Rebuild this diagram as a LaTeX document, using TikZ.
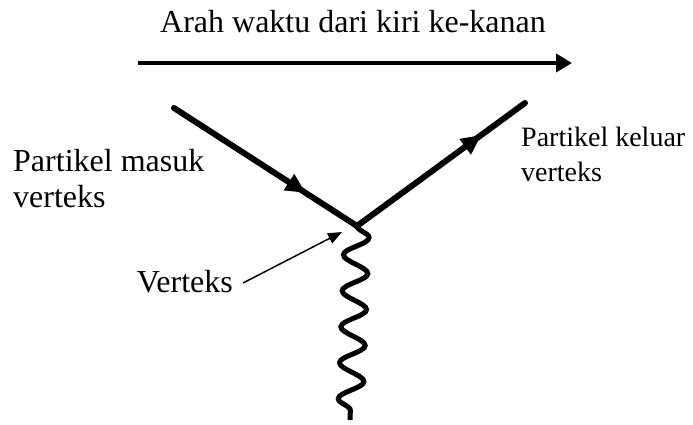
\documentclass[tikz,border=0pt]{standalone}
\usepackage{fontspec}
\setmainfont{Liberation Serif}
\usetikzlibrary{arrows.meta,decorations.markings,decorations.pathmorphing}
\tikzset{
  lbl/.style={font=\fontsize{32}{36}\selectfont, inner sep=0pt, align=left},
  lblsmall/.style={font=\fontsize{28}{35}\selectfont, inner sep=0pt, align=left},
  particle/.style={line width=6pt, line cap=round,
    postaction={decorate, decoration={markings,
      mark=at position #1 with {\arrow{Triangle[length=20pt,width=18pt]}}}}},
  photon/.style={line width=5pt, decorate,
    decoration={snake, segment length=36pt, amplitude=12.5pt}},
}
\begin{document}
\begin{tikzpicture}[x=1pt,y=-1pt]
\useasboundingbox (0,0) rectangle (693,425);
% coordinates
\coordinate (tl) at (138,63);
\coordinate (tr) at (572,63);
\coordinate (in) at (174,108);
\coordinate (v) at (357,226);
\coordinate (out) at (525,103);
\coordinate (wb) at (350,420);
\coordinate (va) at (243,283);
\coordinate (vt) at (342,232);
% labels
\node[lbl, anchor=base] (title) at (353,33) {Arah waktu dari kiri ke-kanan};
\node[lbl, anchor=west] (masuk) at (13,179) {Partikel masuk\\verteks};
\node[lblsmall, anchor=west] (keluar) at (521,154) {Partikel keluar\\verteks};
\node[lbl, anchor=base east] (vert) at (233,292) {Verteks};
% time arrow
\draw[line width=4pt, -{Triangle[length=16pt,width=18pt]}] (tl) -- (tr);
% fermion lines
\draw[particle=0.72] (in) -- (v);
\draw[particle=0.74] (v) -- (out);
% photon
\draw[photon] (v) -- (wb);
% vertex pointer
\draw[line width=1.5pt, -{Triangle[length=14pt,width=11pt]}] (va) -- (vt);
\end{tikzpicture}
\end{document}
